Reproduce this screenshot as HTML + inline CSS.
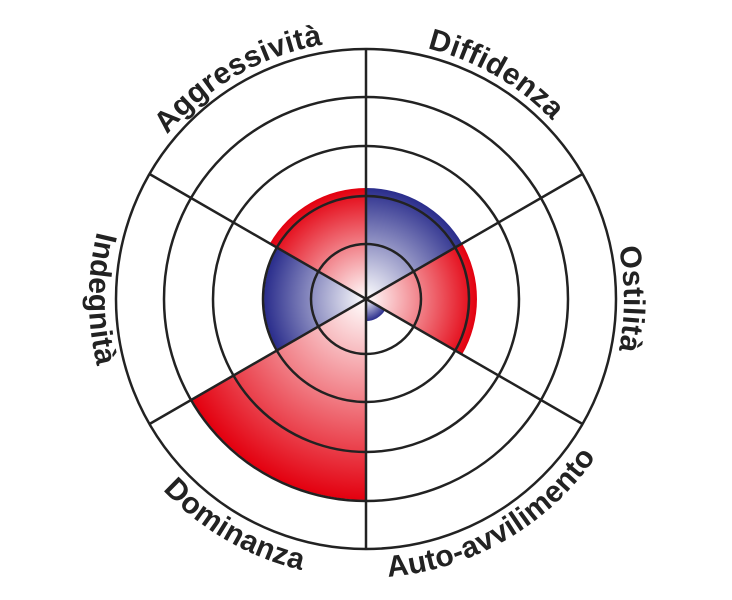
<!DOCTYPE html>
<html><head><meta charset="utf-8"><style>
html,body{margin:0;padding:0;background:#fff;}
svg{display:block;}
text{font-family:"Liberation Sans",sans-serif;font-weight:bold;font-size:30px;fill:#222;letter-spacing:0.3px;}
</style></head><body>
<svg width="732" height="600" viewBox="0 0 732 600" xmlns="http://www.w3.org/2000/svg">
<defs>
<radialGradient id="b111" gradientUnits="userSpaceOnUse" cx="366" cy="299" r="111"><stop offset="0" stop-color="#fff"/><stop offset="1" stop-color="#2a2d8c"/></radialGradient>
<radialGradient id="b102" gradientUnits="userSpaceOnUse" cx="366" cy="299" r="102"><stop offset="0" stop-color="#fff"/><stop offset="1" stop-color="#2a2d8c"/></radialGradient>
<radialGradient id="b22" gradientUnits="userSpaceOnUse" cx="366" cy="299" r="22"><stop offset="0" stop-color="#fff"/><stop offset="1" stop-color="#2a2d8c"/></radialGradient>
<radialGradient id="r111" gradientUnits="userSpaceOnUse" cx="366" cy="299" r="111"><stop offset="0" stop-color="#fff"/><stop offset="1" stop-color="#e3000f"/></radialGradient>
<radialGradient id="r201" gradientUnits="userSpaceOnUse" cx="366" cy="299" r="201"><stop offset="0" stop-color="#fff"/><stop offset="1" stop-color="#e3000f"/></radialGradient>
<path id="pAgg" d="M108,299 A258,258 0 0 1 495,75.6"/>
<path id="pDif" d="M237,75.6 A258,258 0 0 1 624,299"/>
<path id="pOst" d="M495,75.6 A258,258 0 0 1 495,522.4"/>
<path id="pInd" d="M227,58.2 A279,279 0 0 0 227,539.8"/>
<path id="pDom" d="M87,299 A279,279 0 0 0 505,540.6"/>
<path id="pAut" d="M227,540.6 A279,279 0 0 0 645,299"/>
</defs>
<path d="M366,299 L366,188 A111,111 0 0 1 462.1,243.5 Z" fill="url(#b111)"/>
<path d="M366,299 L462.1,243.5 A111,111 0 0 1 462.1,354.5 Z" fill="url(#r111)"/>
<path d="M366,299 L385.1,310 A22,22 0 0 1 366,321 Z" fill="url(#b22)"/>
<path d="M366,299 L366,500 A201,201 0 0 1 191.9,399.5 Z" fill="url(#r201)"/>
<path d="M366,299 L277.7,350 A102,102 0 0 1 277.7,248 Z" fill="url(#b102)"/>
<path d="M366,299 L269.9,243.5 A111,111 0 0 1 366,188 Z" fill="url(#r111)"/>
<g fill="none" stroke="#222" stroke-width="2.5">
<circle cx="366" cy="299" r="55"/>
<circle cx="366" cy="299" r="103"/>
<circle cx="366" cy="299" r="153"/>
<circle cx="366" cy="299" r="202"/>
<circle cx="366" cy="299" r="250"/>
<line x1="366" y1="49" x2="366" y2="549"/>
<line x1="149.5" y1="174" x2="582.5" y2="424"/>
<line x1="149.5" y1="424" x2="582.5" y2="174"/>
</g>
<text><textPath href="#pAgg" startOffset="50%" text-anchor="middle">Aggressività</textPath></text>
<text><textPath href="#pDif" startOffset="50%" text-anchor="middle">Diffidenza</textPath></text>
<text><textPath href="#pOst" startOffset="50%" text-anchor="middle">Ostilità</textPath></text>
<text><textPath href="#pInd" startOffset="50%" text-anchor="middle">Indegnità</textPath></text>
<text><textPath href="#pDom" startOffset="50%" text-anchor="middle">Dominanza</textPath></text>
<text><textPath href="#pAut" startOffset="50%" text-anchor="middle">Auto-avvilimento</textPath></text>
</svg>
</body></html>
